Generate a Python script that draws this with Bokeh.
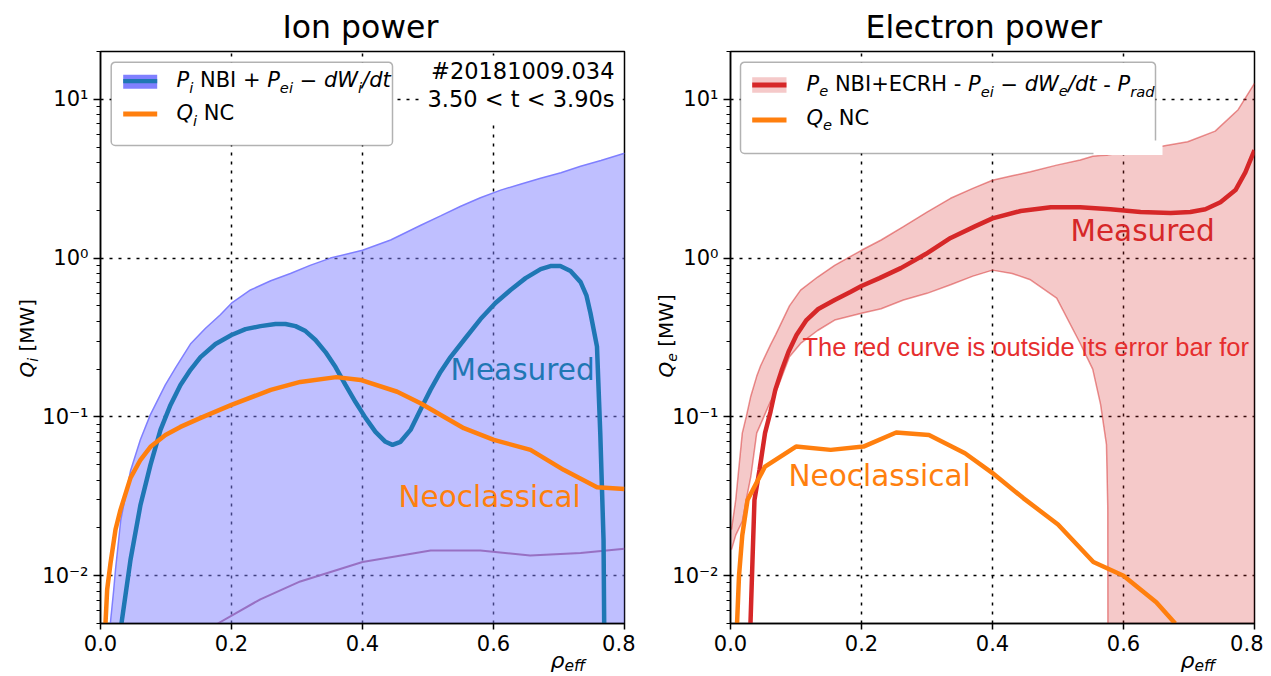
import math
from bokeh.plotting import figure
from bokeh.models import (Range1d, FixedTicker, CustomJSTickFormatter, PrintfTickFormatter,
                          Label, BoxAnnotation)
from bokeh.layouts import row
from bokeh.embed import file_html
from bokeh.resources import INLINE

# ---------------- data ----------------
x_ticks = [0.0, 0.2, 0.4, 0.6, 0.8]
y_ticks = [0.01, 0.1, 1.0, 10.0]

# Ion power panel
ion_band_rho = [0.015, 0.02, 0.023, 0.031, 0.046, 0.061, 0.076, 0.099, 0.115, 0.138, 0.16,
                0.183, 0.2, 0.229, 0.26, 0.29, 0.32, 0.351, 0.4, 0.443, 0.489, 0.52, 0.55,
                0.58, 0.611, 0.641, 0.672, 0.703, 0.733, 0.764, 0.8]
ion_band_upper = [0.005, 0.008, 0.011, 0.0225, 0.046, 0.072, 0.103, 0.159, 0.205, 0.29, 0.36,
                  0.44, 0.52, 0.63, 0.72, 0.8, 0.9, 1.0, 1.12, 1.30, 1.61, 1.85, 2.12,
                  2.4, 2.68, 2.92, 3.18, 3.45, 3.79, 4.12, 4.57]
ion_band_lower = [1e-6] * len(ion_band_rho)

ion_meas_rho = [0.032, 0.0458, 0.0611, 0.0763, 0.0916, 0.1069, 0.1221, 0.1374, 0.1527, 0.1756,
                0.2, 0.2214, 0.2443, 0.2672, 0.2824, 0.2977, 0.313, 0.3282, 0.3435, 0.3588,
                0.374, 0.3893, 0.4046, 0.4198, 0.4351, 0.4458, 0.458, 0.4733, 0.4885, 0.5038,
                0.5191, 0.5344, 0.5573, 0.5802, 0.603, 0.626, 0.649, 0.672, 0.687, 0.702,
                0.7176, 0.733, 0.742, 0.748, 0.758, 0.763, 0.768, 0.769]
ion_meas = [0.005, 0.0126, 0.028, 0.0499, 0.0828, 0.119, 0.159, 0.198, 0.238, 0.288,
            0.328, 0.357, 0.373, 0.385, 0.385, 0.373, 0.347, 0.305, 0.256, 0.206,
            0.159, 0.124, 0.0986, 0.0805, 0.0697, 0.0667, 0.0697, 0.0828, 0.111, 0.148,
            0.192, 0.238, 0.314, 0.413, 0.521, 0.629, 0.748, 0.853, 0.891, 0.891,
            0.829, 0.706, 0.58, 0.451, 0.277, 0.079, 0.0168, 0.005]

ion_nc_rho = [0.0076, 0.0102, 0.0153, 0.0229, 0.0305, 0.0458, 0.0611, 0.0763, 0.0992, 0.122,
              0.153, 0.2, 0.26, 0.305, 0.36, 0.397, 0.453, 0.4885, 0.5547, 0.6005, 0.6565,
              0.707, 0.758, 0.8]
ion_nc = [0.005, 0.0082, 0.012, 0.0195, 0.026, 0.0413, 0.0537, 0.0648, 0.077, 0.0865,
          0.0986, 0.119, 0.148, 0.166, 0.178, 0.171, 0.144, 0.122, 0.0849, 0.0717, 0.062,
          0.0464, 0.0361, 0.0352]

ion_other_rho = [0.179, 0.244, 0.305, 0.4, 0.504, 0.58, 0.656, 0.733, 0.8]
ion_other = [0.005, 0.0071, 0.0092, 0.0122, 0.0144, 0.0144, 0.0134, 0.0139, 0.0148]

# Electron power panel
el_band_rho = [0.0015, 0.008, 0.018, 0.024, 0.031, 0.04, 0.046, 0.061, 0.069, 0.09, 0.107,
               0.133, 0.159, 0.2, 0.23, 0.264, 0.3, 0.336, 0.37, 0.4, 0.43, 0.458, 0.498,
               0.534, 0.553, 0.565, 0.574, 0.576, 0.577, 0.58, 0.641, 0.698, 0.74, 0.775, 0.8]
el_band_upper = [0.0195, 0.03, 0.079, 0.1, 0.135, 0.18, 0.21, 0.284, 0.33, 0.5, 0.629,
                 0.76, 0.9, 1.12, 1.3, 1.58, 1.95, 2.38, 2.75, 3.09, 3.3, 3.5, 3.85,
                 4.15, 4.38, 4.42, 4.45, 4.46, 4.47, 4.49, 4.92, 5.4, 6.3, 8.6, 12.6]
el_band_lower = [0.0146, 0.018, 0.022, 0.03, 0.042, 0.079, 0.09, 0.125, 0.142, 0.239, 0.29,
                 0.35, 0.407, 0.449, 0.48, 0.545, 0.6, 0.68, 0.77, 0.84, 0.8, 0.73, 0.56,
                 0.29, 0.2, 0.12, 0.067, 0.027, 1e-6, 1e-6, 1e-6, 1e-6, 1e-6, 1e-6, 1e-6]

el_meas_rho = [0.0305, 0.0336, 0.0366, 0.0443, 0.0527, 0.0611, 0.0684, 0.0779, 0.0885, 0.1008,
               0.116, 0.134, 0.159, 0.183, 0.2, 0.2275, 0.26, 0.298, 0.336, 0.374, 0.4,
               0.443, 0.489, 0.534, 0.58, 0.626, 0.672, 0.702, 0.725, 0.748, 0.771, 0.786, 0.8]
el_meas = [0.005, 0.0126, 0.030, 0.0464, 0.079, 0.108, 0.148, 0.195, 0.256, 0.328,
           0.407, 0.478, 0.544, 0.611, 0.667, 0.748, 0.865, 1.06, 1.34, 1.59, 1.78,
           1.98, 2.09, 2.09, 2.03, 1.95, 1.92, 1.95, 2.03, 2.25, 2.68, 3.47, 4.78]

el_nc_rho = [0.01, 0.013, 0.018, 0.026, 0.0527, 0.1, 0.153, 0.203, 0.253, 0.303, 0.358, 0.4,
             0.447, 0.5, 0.554, 0.6, 0.65, 0.679]
el_nc = [0.005, 0.01, 0.018, 0.030, 0.0487, 0.065, 0.062, 0.065, 0.0797, 0.077, 0.059,
         0.0443, 0.0308, 0.021, 0.0122, 0.0100, 0.0068, 0.005]

shot_text = ["#20181009.034", "3.50 < t < 3.90s"]

# ---------------- helpers ----------------
FONT = "DejaVu Sans"
FW, FH = 524, 572
Y0, Y1 = 0.005, 20.0
TOP = Y1
BASE = 0.34  # empirical shift between requested baseline and drawn anchor (em)
SHIFT = 120  # extra left border hidden by a negative margin

ADV = {' ': 651, '#': 1716, '+': 1716, '-': 739, '.': 651, '/': 690, '<': 1716, '\u2212': 1716,
       '[': 799, ']': 799, 'B': 1405, 'C': 1430, 'E': 1294, 'H': 1540, 'I': 604, 'M': 1767,
       'N': 1532, 'P': 1235, 'Q': 1612, 'R': 1423, 'W': 2025, 'a': 1255, 'd': 1300, 'e': 1260,
       'f': 721, 'i': 569, 'r': 842, 's': 1067, 't': 803, '\u03c1': 1300}


def tw(s, size):
    return sum(ADV.get(c, 1303) for c in s) / 2048.0 * size


def fx2d(px):
    return px / FW * 0.8


def fy2d(py):
    lo, hi = math.log10(Y0), math.log10(Y1)
    return 10 ** (hi - py / FH * (hi - lo))


def label(p, fx, fy, text, size, color="black", style="normal", align="left", font=FONT,
          angle=0.0, side=None):
    c = BASE * size
    if angle:
        ax, ay = fx - c, fy
    else:
        ax, ay = fx, fy - c
    lab = Label(x=0, y=TOP, x_units="data", y_units="data", x_offset=ax, y_offset=-ay,
                text=text, text_font=font, text_font_size=f"{size}px",
                text_font_style=style, text_color=color, text_align=align,
                text_baseline="alphabetic", angle=angle)
    if side:
        p.add_layout(lab, side)
    else:
        p.add_layout(lab)


def rich(p, fx, fy, pieces, vertical=False, side=None):
    pos = 0.0
    for text, size, style, dy in pieces:
        lead = len(text) - len(text.lstrip(" "))
        start = pos + tw(text[:lead], size)
        t = text.strip(" ")
        if t:
            if vertical:
                label(p, fx + dy, fy - start, t, size, style=style, angle=math.pi / 2, side=side)
            else:
                label(p, fx + start, fy + dy, t, size, style=style, side=side)
        pos += tw(text, size)


def box(p, l, t, r, b, fill="white", line=None, lw=1.5, radius=0, alpha=1.0):
    kw = dict(left=fx2d(l), right=fx2d(r), top=fy2d(t), bottom=fy2d(b),
              fill_color=fill, fill_alpha=alpha, line_color=line, line_width=lw)
    if radius:
        kw["border_radius"] = radius
    p.add_layout(BoxAnnotation(**kw))


def make_fig(title, bl, br, title_x):
    p = figure(frame_width=FW, frame_height=FH, min_border_left=bl + SHIFT, min_border_right=br,
               min_border_top=51, min_border_bottom=53, margin=(0, 0, 0, -SHIFT),
               x_range=Range1d(0, 0.8), y_range=Range1d(Y0, Y1), y_axis_type="log",
               output_backend="svg", toolbar_location=None,
               background_fill_color="white", border_fill_color=None,
               outline_line_color="black", outline_line_width=1.5)
    p.title.text = title
    p.title.align = "left"
    p.title.offset = title_x
    p.title.text_font = FONT
    p.title.text_font_size = "31.5px"
    p.title.text_font_style = "normal"
    p.title.text_color = "black"
    p.title.standoff = 13
    p.xaxis.ticker = FixedTicker(ticks=x_ticks)
    p.xaxis.formatter = PrintfTickFormatter(format="%.1f")
    minor = [m * d for d in [0.001, 0.01, 0.1, 1.0, 10.0] for m in range(2, 10)]
    p.yaxis.ticker = FixedTicker(ticks=y_ticks, minor_ticks=minor)
    p.yaxis.formatter = CustomJSTickFormatter(code="""
        const e = Math.round(Math.log10(tick));
        const m = {"-": "\u207b", "0": "\u2070", "1": "\u00b9", "2": "\u00b2", "3": "\u00b3"};
        return "10" + String(e).split("").map(c => m[c]).join("");
    """)
    for ax in [p.xaxis[0], p.yaxis[0]]:
        ax.major_label_text_font = FONT
        ax.major_label_text_font_size = "21px"
        ax.major_label_text_color = "black"
        ax.axis_line_color = "black"
        ax.axis_line_width = 1.5
        ax.major_tick_line_color = "black"
        ax.major_tick_line_width = 1.5
        ax.major_tick_in = 0
        ax.axis_label = None
    p.xaxis[0].major_tick_out = 6
    p.xaxis[0].minor_tick_line_color = None
    p.yaxis[0].major_tick_out = 7
    p.yaxis[0].minor_tick_out = 4
    p.yaxis[0].minor_tick_in = 0
    p.yaxis[0].minor_tick_line_color = "black"
    p.yaxis[0].minor_tick_line_width = 1.2
    p.grid.grid_line_color = "black"
    p.grid.grid_line_dash = "3 6"
    p.grid.grid_line_width = 1.5
    p.grid.minor_grid_line_color = None
    # x label rho_eff (below the tick labels, at the right)
    rich(p, 450, FH + 44, [("\u03c1", 22, "italic", 0), ("eff", 15.5, "italic", 4)], side="left")
    return p


# ---------------- Ion power ----------------
p1 = make_fig("Ion power", 100, 11, 182)
p1.varea(x=ion_band_rho, y1=ion_band_lower, y2=ion_band_upper, fill_color="#7f7fff", fill_alpha=0.5)
p1.line(ion_band_rho, ion_band_upper, line_color="#7f7fff", line_width=1.5)
p1.line(ion_other_rho, ion_other, line_color="#9467bd", line_width=2, line_alpha=0.9)
p1.line(ion_meas_rho, ion_meas, line_color="#1f77b4", line_width=4.5)
p1.line(ion_nc_rho, ion_nc, line_color="#ff7f0e", line_width=4.5)

label(p1, 350, 329, "Measured", 29.5, color="#1f77b4")
label(p1, 298, 456, "Neoclassical", 29.5, color="#ff7f0e")

# shot info box
box(p1, 320, 4, 522, 72, fill="white")
label(p1, 514, 27.5, shot_text[0], 22.5, align="right")
label(p1, 514, 55, shot_text[1], 22.5, align="right")

# legend
box(p1, 10.7, 10.7, 292, 94, fill="white", line="black", lw=1.5, radius=4)
box(p1, 22.7, 23.3, 56.7, 37.3, fill="#8080ff")
box(p1, 22.7, 27.5, 56.7, 31.7, fill="#1f77b4")
box(p1, 22.7, 60, 56.7, 65, fill="#ff7f0e")
rich(p1, 76, 36, [("P", 21, "italic", 0), ("i", 14.7, "italic", 4.5), (" NBI + ", 21, "normal", 0),
                  ("P", 21, "italic", 0), ("ei", 14.7, "italic", 4.5), (" \u2212 ", 21, "normal", 0),
                  ("dW", 21, "italic", 0), ("i", 14.7, "italic", 4.5), ("/dt", 21, "italic", 0)])
rich(p1, 76, 69, [("Q", 21, "italic", 0), ("i", 14.7, "italic", 4.5), (" NC", 21, "normal", 0)])

# y label
rich(p1, -67, 326, [("Q", 20, "italic", 0), ("i", 14, "italic", 4), (" [MW]", 20, "normal", 0)],
     vertical=True, side="left")

# ---------------- Electron power ----------------
p2 = make_fig("Electron power", 95, 9, 135)
p2.varea(x=el_band_rho, y1=el_band_lower, y2=el_band_upper, fill_color="#d62728", fill_alpha=0.25)
p2.line(el_band_rho, el_band_upper, line_color="#d62728", line_width=1.5, line_alpha=0.5)
p2.line(el_band_rho, el_band_lower, line_color="#d62728", line_width=1.5, line_alpha=0.5)
p2.line(el_meas_rho, el_meas, line_color="#d62728", line_width=4.5)
p2.line(el_nc_rho, el_nc, line_color="#ff7f0e", line_width=4.5)

label(p2, 340, 190, "Measured", 29.5, color="#d62728")
label(p2, 58, 435, "Neoclassical", 29.5, color="#ff7f0e")
label(p2, 72, 304, "The red curve is outside its error bar for", 25.5, color="#e62e2e",
      font="Liberation Sans")

# legend
box(p2, 10, 10.7, 425, 102, fill="white", line="black", lw=1.5, radius=4)
box(p2, 21.7, 25.7, 56, 41.3, fill="#f5c9c9")
box(p2, 21.7, 31, 56, 36, fill="#d62728")
box(p2, 21.7, 66, 56, 71, fill="#ff7f0e")
rich(p2, 76, 40, [("P", 21, "italic", 0), ("e", 14.7, "italic", 4.5), (" NBI+ECRH - ", 21, "normal", 0),
                  ("P", 21, "italic", 0), ("ei", 14.7, "italic", 4.5), (" \u2212 ", 21, "normal", 0),
                  ("dW", 21, "italic", 0), ("e", 14.7, "italic", 4.5), ("/dt", 21, "italic", 0),
                  (" - ", 21, "normal", 0), ("P", 21, "italic", 0), ("rad", 14.7, "italic", 4.5)])
rich(p2, 76, 74, [("Q", 21, "italic", 0), ("e", 14.7, "italic", 4.5), (" NC", 21, "normal", 0)])
# white patch over legend corner
box(p2, 363, 89, 432, 103.5, fill="white")

rich(p2, -58, 326, [("Q", 20, "italic", 0), ("e", 14, "italic", 4), (" [MW]", 20, "normal", 0)],
     vertical=True, side="left")

layout = row(p1, p2, spacing=0)
open("out.html", "w").write(file_html(layout, INLINE))
